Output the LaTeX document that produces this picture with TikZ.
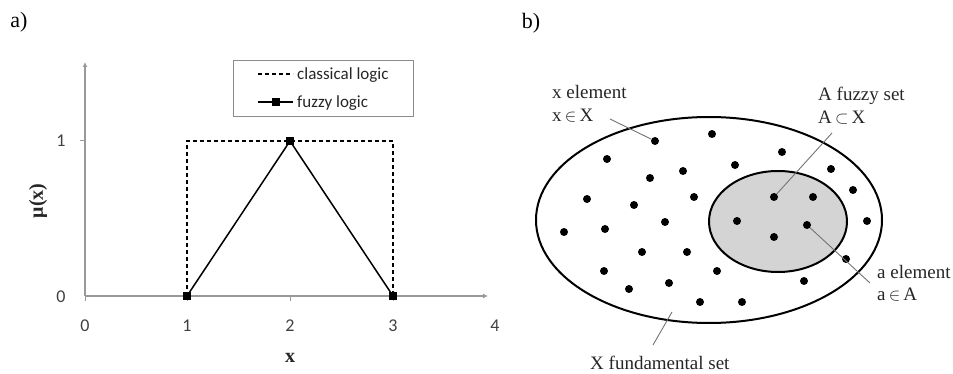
\documentclass[tikz,border=0pt]{standalone}
\usepackage{fontspec}
\setmainfont{Liberation Serif}
\newfontfamily\chartfont{Carlito}
\usetikzlibrary{arrows.meta,positioning,shapes.geometric}

\begin{document}
\begin{tikzpicture}[
  x=1pt, y=-1pt,
  axisline/.style={draw=black!40, line width=1.6pt},
  ticklbl/.style={font=\chartfont\fontsize{18}{18}\selectfont, text=black!75, inner sep=0pt},
  legtxt/.style={font=\chartfont\fontsize{17}{17}\selectfont, text=black!85, anchor=base west, inner sep=0pt},
  axislbl/.style={font=\bfseries\fontsize{20}{20}\selectfont, text=black!85, inner sep=0pt},
  panel/.style={font=\fontsize{22}{22}\selectfont, inner sep=0pt},
  lbl/.style={font=\fontsize{19}{23}\selectfont, anchor=base west, inner sep=0pt, text=black!85},
  sqmark/.style={fill=black, minimum size=8pt, inner sep=0pt},
  classic/.style={line width=1.5pt, dash pattern=on 4pt off 3pt},
  fuzzy/.style={line width=1.5pt},
  setline/.style={draw, line width=2pt, ellipse, inner sep=0pt},
  dotnode/.style={circle, fill=black, minimum size=8pt, inner sep=0pt},
  leader/.style={draw=black!55, line width=0.9pt}
]
\useasboundingbox (0,0) rectangle (953,374);

% panel a: membership functions
\node[panel] (pa) at (19,22) {a)};
\coordinate (o) at (85,296);
\coordinate (ytop) at (85,62);
\coordinate (xend) at (488,296);
\draw[axisline, -{Latex[length=5pt,width=5pt]}] (o) -- (ytop);
\draw[axisline, -{Latex[length=5pt,width=5pt]}] (o) -- (xend);
\draw[axisline, line width=1pt] (80,141) -- (85,141);
\foreach \tx in {85,187,290,393} \draw[axisline, line width=1pt] (\tx,296) -- (\tx,301);

\node[ticklbl] (y0) at (61,297) {0};
\node[ticklbl] (y1) at (61,141) {1};
\node[ticklbl] (x0) at (85,326) {0};
\node[ticklbl] (x1) at (187,326) {1};
\node[ticklbl] (x2) at (290,326) {2};
\node[ticklbl] (x3) at (393,326) {3};
\node[ticklbl] (x4) at (495,326) {4};
\node[axislbl, rotate=90] (ylab) at (38,201) {μ(x)};
\node[axislbl] (xlab) at (290,358) {x};

\coordinate (q1) at (187,296);
\coordinate (q2) at (290,141);
\coordinate (q3) at (393,296);
\coordinate (c1) at (187,141);
\coordinate (c3) at (393,141);
\draw[classic] (q1) -- (c1) -- (c3) -- (q3);
\draw[fuzzy] (q1) -- (q2) -- (q3);
\node[sqmark] (p1) at (q1) {};
\node[sqmark] (p2) at (q2) {};
\node[sqmark] (p3) at (q3) {};

% legend
\node[draw=black!45, line width=1pt, minimum width=180pt, minimum height=56pt, inner sep=0pt] (legend) at (323,89) {};
\coordinate (l1a) at (258,74);
\coordinate (l1b) at (293,74);
\coordinate (l2a) at (258,102);
\coordinate (l2b) at (293,102);
\draw[classic] (l1a) -- (l1b);
\draw[fuzzy] (l2a) -- (l2b);
\node[sqmark] (legm) at (275.5,102) {};
\node[legtxt] (legc) at (297,80) {classical logic};
\node[legtxt] (legf) at (297,108) {fuzzy logic};

% panel b: sets
\node[panel] (pb) at (531,23) {b)};
\node[setline, minimum width=346pt, minimum height=206pt] (fund) at (709,220) {};
\node[setline, fill=black!17, minimum width=138pt, minimum height=101pt] (fset) at (778,221.5) {};

\foreach \px/\py [count=\i] in {655/141, 712/134, 607/159, 782/152, 735/165, 683/171,
  650/178, 831/169, 853/190, 587/199, 694/197, 634/205, 774/197, 813/197, 867/221,
  564/232, 605/229, 665/222, 737/221, 807/225, 774/237, 642/252, 687/252, 846/259,
  604/271, 717/271, 669/283, 629/289, 804/281, 700/302, 742/302}
  \node[dotnode] (dot\i) at (\px,\py) {};

\node[lbl] (xname) at (552,98.5) {x element};
\node[lbl] (xmem) at (552,121.5) {x\,$\in$\,X};
\node[lbl] (aname) at (818,101) {A fuzzy set};
\node[lbl] (amem) at (818,124) {A\,$\subset$\,X};
\node[lbl] (ename) at (877,278) {a element};
\node[lbl] (emem) at (877,300) {a\,$\in$\,A};
\node[lbl] (fname) at (590,369) {X fundamental set};

\coordinate (xl) at (610,119);
\coordinate (al) at (832,133);
\coordinate (el) at (870,283);
\coordinate (fl1) at (672,312);
\coordinate (fl2) at (653,345);
\draw[leader] (xl) -- (dot1);
\draw[leader] (al) -- (dot13);
\draw[leader] (dot20) -- (el);
\draw[leader] (fl1) -- (fl2);
\end{tikzpicture}
\end{document}
